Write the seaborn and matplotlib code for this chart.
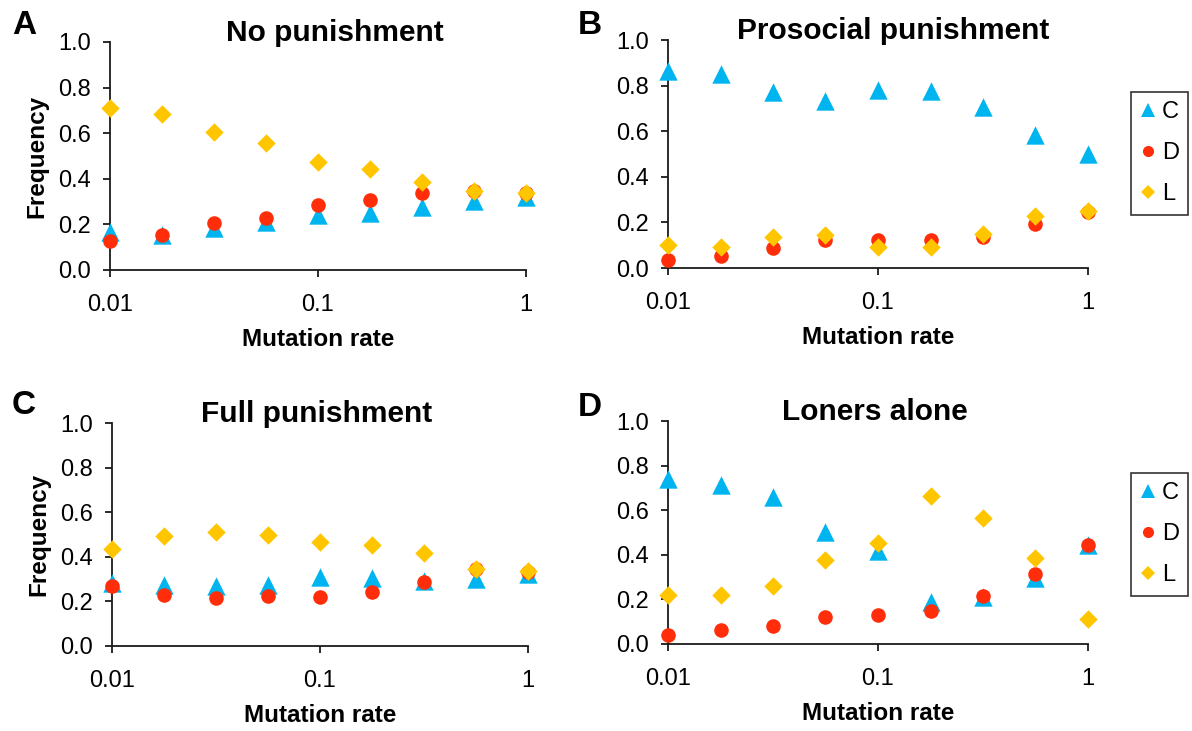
from matplotlib import pyplot as plt
from matplotlib import ticker
from matplotlib.lines import Line2D
import numpy as np
import pandas as pd
import seaborn as sns

# mutation rates (log-spaced points)
rates = [0.01, 0.0178, 0.0316, 0.0562, 0.1, 0.178, 0.316, 0.562, 1.0]

# A - No punishment
a_c = [0.168, 0.155, 0.185, 0.21, 0.242, 0.25, 0.277, 0.304, 0.322]
a_d = [0.128, 0.155, 0.206, 0.23, 0.287, 0.307, 0.339, 0.348, 0.337]
a_l = [0.712, 0.686, 0.606, 0.555, 0.472, 0.441, 0.384, 0.345, 0.338]

# B - Prosocial punishment
b_c = [0.864, 0.851, 0.774, 0.731, 0.779, 0.776, 0.704, 0.584, 0.5]
b_d = [0.034, 0.052, 0.086, 0.124, 0.124, 0.124, 0.138, 0.192, 0.247]
b_l = [0.102, 0.093, 0.137, 0.143, 0.093, 0.093, 0.151, 0.227, 0.252]

# C - Full punishment
c_c = [0.283, 0.275, 0.268, 0.272, 0.308, 0.304, 0.292, 0.3, 0.323]
c_d = [0.268, 0.229, 0.214, 0.225, 0.218, 0.243, 0.288, 0.346, 0.332]
c_l = [0.437, 0.493, 0.513, 0.5, 0.468, 0.452, 0.415, 0.345, 0.336]

# D - Loners alone
d_c = [0.74, 0.713, 0.66, 0.504, 0.418, 0.188, 0.213, 0.298, 0.442]
d_d = [0.04, 0.063, 0.081, 0.12, 0.13, 0.149, 0.217, 0.314, 0.444]
d_l = [0.22, 0.22, 0.262, 0.377, 0.454, 0.664, 0.564, 0.384, 0.112]

titles = ['No punishment', 'Prosocial punishment', 'Full punishment', 'Loners alone']
letters = ['A', 'B', 'C', 'D']
strategies = ['C', 'D', 'L']

colors = {'C': '#00B5EF', 'D': '#FF2D0A', 'L': '#FFC600'}
markers = {'C': '^', 'D': 'o', 'L': 'D'}
sizes = {'C': 175, 'D': 110, 'L': 88}
leg_ms = {'C': 9.5, 'D': 8, 'L': 6.8}

panels = [
    {'C': a_c, 'D': a_d, 'L': a_l},
    {'C': b_c, 'D': b_d, 'L': b_l},
    {'C': c_c, 'D': c_d, 'L': c_l},
    {'C': d_c, 'D': d_d, 'L': d_l},
]

sns.set_style('ticks')
plt.rcParams['font.family'] = ['Liberation Sans', 'DejaVu Sans']
plt.rcParams['text.color'] = 'black'
plt.rcParams['axes.labelcolor'] = 'black'

W, H = 1192, 731
fig = plt.figure(figsize=(W / 100, H / 100), dpi=100)

# axes boxes in pixels: left, right, top, bottom
boxes = [(110, 526, 42, 270), (668, 1088, 40, 268), (112, 528, 423, 646), (668, 1088, 421, 644)]
title_x = [0.54, 0.535, 0.493, 0.493]
letter_pos = [(24, 26), (590, 26), (24, 406), (590, 408)]

for i, data in enumerate(panels):
    l, r, t, b = boxes[i]
    ax = fig.add_axes([l / W, 1 - b / H, (r - l) / W, (b - t) / H])

    df = pd.DataFrame({'rate': rates, **data}).melt(id_vars='rate', var_name='strategy', value_name='freq')
    for s in strategies:
        sub = df[df['strategy'] == s]
        sns.scatterplot(data=sub, x='rate', y='freq', ax=ax, color=colors[s], marker=markers[s],
                        s=sizes[s], linewidth=0, clip_on=False, zorder=3, legend=False)

    ax.set_xscale('log')
    ax.set_xlim(0.01, 1)
    ax.set_ylim(0, 1)
    ax.set_xticks([0.01, 0.1, 1])
    ax.xaxis.set_major_formatter(ticker.FixedFormatter(['0.01', '0.1', '1']))
    ax.xaxis.set_minor_locator(ticker.NullLocator())
    ax.set_yticks(np.arange(0, 1.01, 0.2))
    ax.yaxis.set_major_formatter(ticker.StrMethodFormatter('{x:.1f}'))

    sns.despine(ax=ax)
    for sp in ['left', 'bottom']:
        ax.spines[sp].set_color('#1a1a1a')
        ax.spines[sp].set_linewidth(1.3)
    ax.tick_params(axis='both', labelsize=17, length=5, width=1.3, color='#1a1a1a', labelcolor='black')
    ax.tick_params(axis='x', pad=12)
    ax.tick_params(axis='y', pad=9)

    ax.set_xlabel('Mutation rate', fontsize=17.5, fontweight='bold', labelpad=9)
    if i % 2 == 0:
        ax.set_ylabel('Frequency', fontsize=17.5, fontweight='bold', labelpad=7)
    else:
        ax.set_ylabel('')

    ax.text(title_x[i], 1.005, titles[i], transform=ax.transAxes, ha='center', va='baseline',
            fontsize=21.5, fontweight='bold')
    fig.text(letter_pos[i][0] / W, 1 - letter_pos[i][1] / H, letters[i], ha='center', va='center',
             fontsize=24, fontweight='bold')

    # legend only on the right-hand panels
    if i % 2 == 1:
        handles = [Line2D([], [], linestyle='none', marker=markers[s], color=colors[s],
                          markersize=leg_ms[s], markeredgewidth=0) for s in strategies]
        leg = ax.legend(handles, strategies, loc='upper left', bbox_to_anchor=(1131 / W, 1 - (t + 52) / H),
                        bbox_transform=fig.transFigure, fontsize=17, frameon=True, fancybox=False,
                        edgecolor='black', handlelength=0.6, handletextpad=0.3, labelspacing=0.8,
                        borderpad=0.4, borderaxespad=0)
        leg.get_frame().set_linewidth(1.2)

fig.savefig('out.png', dpi=100)
